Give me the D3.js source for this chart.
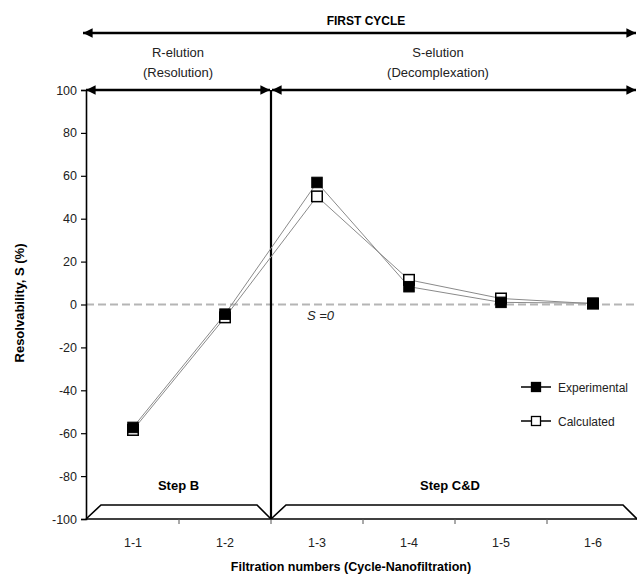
<!DOCTYPE html>
<html>
<head>
<meta charset="utf-8">
<script src="https://cdn.jsdelivr.net/npm/d3@7"></script>
<style>
  body { margin: 0; background: #fff; }
  text { font-family: "Liberation Sans", Arial, sans-serif; }
</style>
</head>
<body>
<div id="chart"></div>
<script>
// data
var categories = ["1-1", "1-2", "1-3", "1-4", "1-5", "1-6"];
var experimental = [-57.3, -4.5, 56.9, 8.3, 1.0, 0.6];
var calculated = [-58.5, -6.0, 50.4, 11.5, 2.8, 0.4];
var yTicks = [-100, -80, -60, -40, -20, 0, 20, 40, 60, 80, 100];
var seriesNames = ["Experimental", "Calculated"];

var width = 637, height = 576;

var svg = d3.select("#chart")
  .append("svg")
    .attr("width", width)
    .attr("height", height);

var x = d3.scaleBand()
  .domain(categories)
  .range([87, 639])
  .padding(0);

var y = d3.scaleLinear()
  .domain([-100, 100])
  .range([519, 90]);

// arrow heads
var defs = svg.append("defs");
defs.append("marker")
  .attr("id", "head")
  .attr("viewBox", "0 0 10 10")
  .attr("refX", 10).attr("refY", 5)
  .attr("markerWidth", 4).attr("markerHeight", 4)
  .attr("markerUnits", "strokeWidth")
  .attr("orient", "auto-start-reverse")
  .append("path")
    .attr("d", "M0,0 L10,5 L0,10 Z")
    .attr("fill", "#000");

// zero line
svg.append("line")
  .attr("x1", 86).attr("x2", width)
  .attr("y1", y(0)).attr("y2", y(0))
  .attr("stroke", "#b5b5b5")
  .attr("stroke-width", 2)
  .attr("stroke-dasharray", "8,4");

// y axis
var yAxis = svg.append("g")
  .attr("transform", "translate(86,0)")
  .call(d3.axisLeft(y).tickValues(yTicks).tickSize(5).tickPadding(4)
    .tickFormat(function(d) { return String(d); }));
yAxis.select(".domain").attr("stroke-width", 1.6);
yAxis.selectAll(".tick line").attr("stroke-width", 1.2);
yAxis.selectAll("text")
  .attr("font-size", 12.5)
  .attr("fill", "#222")
  .attr("font-family", "Liberation Sans, Arial, sans-serif");

// x axis (ticks on band boundaries)
var bottom = svg.append("g");
bottom.append("line")
  .attr("x1", 86).attr("x2", width)
  .attr("y1", y(-100)).attr("y2", y(-100))
  .attr("stroke", "#000").attr("stroke-width", 1.6);
bottom.selectAll(".xtick")
  .data(categories.slice(1))
  .enter().append("line")
    .attr("x1", function(d) { return x(d); })
    .attr("x2", function(d) { return x(d); })
    .attr("y1", y(-100)).attr("y2", y(-100) + 5)
    .attr("stroke", "#555").attr("stroke-width", 1);
bottom.selectAll(".xlab")
  .data(categories)
  .enter().append("text")
    .attr("x", function(d) { return x(d) + x.bandwidth() / 2; })
    .attr("y", y(-100) + 28)
    .attr("text-anchor", "middle")
    .attr("font-size", 12.5)
    .attr("fill", "#222")
    .text(function(d) { return d; });

// divider between R-elution and S-elution
var xDiv = x("1-3");
svg.append("line")
  .attr("x1", xDiv).attr("x2", xDiv)
  .attr("y1", y(100)).attr("y2", y(-100))
  .attr("stroke", "#000").attr("stroke-width", 2.2);

// top arrows
svg.append("line")
  .attr("x1", 83).attr("x2", width - 1)
  .attr("y1", 33).attr("y2", 33)
  .attr("stroke", "#000").attr("stroke-width", 2.4)
  .attr("marker-start", "url(#head)").attr("marker-end", "url(#head)");
svg.append("line")
  .attr("x1", 86).attr("x2", xDiv - 1)
  .attr("y1", y(100)).attr("y2", y(100))
  .attr("stroke", "#000").attr("stroke-width", 2.4)
  .attr("marker-start", "url(#head)").attr("marker-end", "url(#head)");
svg.append("line")
  .attr("x1", xDiv + 1).attr("x2", width - 1)
  .attr("y1", y(100)).attr("y2", y(100))
  .attr("stroke", "#000").attr("stroke-width", 2.4)
  .attr("marker-start", "url(#head)").attr("marker-end", "url(#head)");

svg.append("text")
  .attr("x", 366).attr("y", 25)
  .attr("text-anchor", "middle")
  .attr("font-size", 12).attr("font-weight", "bold")
  .text("FIRST CYCLE");

var phases = [
  {cx: 178, l1: "R-elution", l2: "(Resolution)"},
  {cx: 438, l1: "S-elution", l2: "(Decomplexation)"}
];
phases.forEach(function(p) {
  svg.append("text").attr("x", p.cx).attr("y", 57)
    .attr("text-anchor", "middle").attr("font-size", 13).attr("fill", "#222").text(p.l1);
  svg.append("text").attr("x", p.cx).attr("y", 77)
    .attr("text-anchor", "middle").attr("font-size", 13).attr("fill", "#222").text(p.l2);
});

// step trapezoids at the bottom
var steps = [
  {label: "Step B", x0: 86, x1: xDiv},
  {label: "Step C&D", x0: xDiv, x1: width}
];
var yb = y(-100), yt = y(-100) - 14;
steps.forEach(function(s) {
  svg.append("path")
    .attr("d", "M" + s.x0 + "," + yb + " L" + (s.x0 + 15) + "," + yt +
               " L" + (s.x1 - 14) + "," + yt + " L" + s.x1 + "," + yb)
    .attr("fill", "none").attr("stroke", "#000").attr("stroke-width", 1.6);
  svg.append("text")
    .attr("x", (s.x0 + s.x1) / 2 - (s.x1 === width ? 4 : 0))
    .attr("y", yb - 29)
    .attr("text-anchor", "middle")
    .attr("font-size", 13).attr("font-weight", "bold")
    .text(s.label);
});

// series lines
var line = d3.line()
  .x(function(d, i) { return x(categories[i]) + x.bandwidth() / 2; })
  .y(function(d) { return y(d); });

[calculated, experimental].forEach(function(vals) {
  svg.append("path")
    .datum(vals)
    .attr("fill", "none")
    .attr("stroke", "#8a8a8a")
    .attr("stroke-width", 1)
    .attr("d", line);
});

var ms = 10.5;
svg.selectAll(".calc")
  .data(calculated)
  .enter().append("rect")
    .attr("x", function(d, i) { return x(categories[i]) + x.bandwidth() / 2 - ms / 2; })
    .attr("y", function(d) { return y(d) - ms / 2; })
    .attr("width", ms).attr("height", ms)
    .attr("fill", "#fff").attr("stroke", "#000").attr("stroke-width", 1.5);
svg.selectAll(".exp")
  .data(experimental)
  .enter().append("rect")
    .attr("x", function(d, i) { return x(categories[i]) + x.bandwidth() / 2 - ms / 2; })
    .attr("y", function(d) { return y(d) - ms / 2; })
    .attr("width", ms).attr("height", ms)
    .attr("fill", "#000").attr("stroke", "#000").attr("stroke-width", 1);

// S = 0 label
svg.append("text")
  .attr("x", 307).attr("y", y(0) + 15)
  .attr("font-size", 13).attr("font-style", "italic").attr("fill", "#222")
  .text("S =0");

// legend
var legend = svg.append("g");
seriesNames.forEach(function(name, i) {
  var ly = 387 + i * 34;
  legend.append("line")
    .attr("x1", 521).attr("x2", 551)
    .attr("y1", ly).attr("y2", ly)
    .attr("stroke", "#000").attr("stroke-width", 1.5);
  legend.append("rect")
    .attr("x", 536 - 4.5).attr("y", ly - 4.5)
    .attr("width", 9).attr("height", 9)
    .attr("fill", i === 0 ? "#000" : "#fff")
    .attr("stroke", "#000").attr("stroke-width", 1.3);
  legend.append("text")
    .attr("x", 558).attr("y", ly + 4.5)
    .attr("font-size", 12).attr("fill", "#222")
    .text(name);
});

// axis titles
svg.append("text")
  .attr("transform", "translate(24," + 303 + ") rotate(-90)")
  .attr("text-anchor", "middle")
  .attr("font-size", 13).attr("font-weight", "bold")
  .text("Resolvability, S (%)");

svg.append("text")
  .attr("x", 351).attr("y", 571)
  .attr("text-anchor", "middle")
  .attr("font-size", 12.5).attr("font-weight", "bold")
  .text("Filtration numbers (Cycle-Nanofiltration)");
</script>
</body>
</html>
